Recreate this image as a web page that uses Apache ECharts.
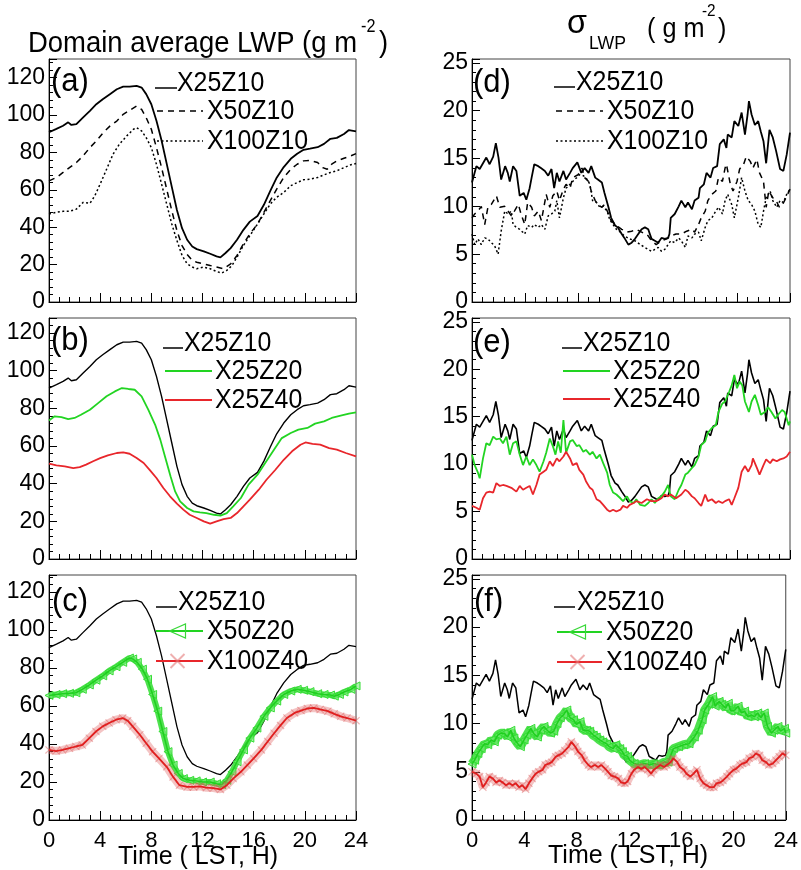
<!DOCTYPE html>
<html><head><meta charset="utf-8">
<script src="https://cdn.jsdelivr.net/npm/echarts@6/dist/echarts.min.js"></script>
<style>html,body{margin:0;padding:0;background:#fff}#c{width:801px;height:870px}</style>
</head><body><div id="c"></div>
<script>
// ---------------- DATA ----------------
const timeTicks = [0, 4, 8, 12, 16, 20, 24];
const panelLabels = ['(a)', '(b)', '(c)', '(d)', '(e)', '(f)'];
const namesA = ['X25Z10', 'X50Z10', 'X100Z10'];
const namesB = ['X25Z10', 'X25Z20', 'X25Z40'];
const namesC = ['X25Z10', 'X50Z20', 'X100Z40'];
const leftTitle = 'Domain average LWP (g m';
const xTitle = 'Time ( LST, H)';

// Domain average LWP (g m-2), [time, value]
const lwp_X25Z10 = [[0,90.8],[0.58,92.6],[1.1,94.3],[1.5,96.1],[1.75,94.7],[2.14,95.2],[2.67,98.8],[3.2,102.3],[3.7,105.8],[4.2,108.5],[4.76,111.2],[5.3,113.8],[5.8,115.2],[6.3,115.2],[6.85,115.6],[7.24,114.7],[7.6,111.2],[8.0,105.8],[8.4,97.0],[8.8,86.4],[9.2,74.0],[9.6,61.6],[10.0,49.2],[10.4,39.5],[10.8,33.3],[11.2,29.7],[11.55,28.3],[12.1,27.1],[12.6,25.8],[13.1,24.4],[13.4,23.9],[13.8,26.2],[14.2,28.8],[14.7,33.3],[15.2,38.6],[15.7,43.0],[16.3,46.0],[16.8,52.0],[17.3,59.5],[17.8,66.5],[18.35,72.2],[18.9,76.6],[19.4,79.3],[19.9,81.4],[20.4,82.0],[21.0,82.8],[21.5,84.6],[22.0,87.3],[22.5,87.8],[23.06,89.9],[23.45,92.0],[24,91.3]];
const lwp_X50Z10 = [[0,64.8],[0.58,66.6],[1.1,69.3],[1.6,71.9],[2.14,74.6],[2.67,78.2],[3.2,82.6],[3.7,86.1],[4.24,90.6],[4.76,94.1],[5.3,96.8],[5.8,100.4],[6.3,102.5],[6.85,104.8],[7.24,103.0],[7.6,98.6],[8.0,92.4],[8.4,82.6],[8.8,71.9],[9.2,60.4],[9.6,48.8],[10.0,38.2],[10.4,30.2],[10.8,25.4],[11.2,22.2],[11.55,21.3],[12.1,20.4],[12.6,19.5],[13.1,18.7],[13.65,17.8],[14.2,20.4],[14.7,24.9],[15.2,31.1],[15.7,36.4],[16.3,41.7],[16.8,48.0],[17.3,54.2],[17.8,60.4],[18.35,66.6],[18.9,71.0],[19.4,73.7],[19.9,75.5],[20.4,75.8],[21.0,74.6],[21.4,71.9],[21.75,71.0],[22.1,73.7],[22.5,75.5],[23.06,76.9],[23.6,78.2],[24,79.4]];
const lwp_X100Z10 = [[0,47.1],[0.58,48.0],[1.1,48.5],[1.6,48.5],[2.14,49.7],[2.67,53.3],[3.2,52.8],[3.58,56.8],[4.0,63.1],[4.5,71.0],[5.0,79.0],[5.5,84.4],[6.07,88.8],[6.6,92.4],[6.85,93.3],[7.24,91.5],[7.6,87.9],[8.0,82.6],[8.4,73.7],[8.8,63.1],[9.2,52.4],[9.6,41.7],[10.0,32.9],[10.4,24.9],[10.8,20.4],[11.2,18.7],[11.55,17.8],[12.1,18.7],[12.6,17.8],[13.1,16.3],[13.5,15.5],[13.9,16.9],[14.3,19.5],[14.7,24.0],[15.2,30.2],[15.7,35.5],[16.3,41.7],[16.8,47.1],[17.3,52.4],[17.8,56.0],[18.35,58.6],[18.9,62.2],[19.4,63.9],[19.9,65.4],[20.4,65.7],[21.0,66.6],[21.5,68.0],[22.0,69.3],[22.5,70.2],[23.06,71.9],[23.6,73.4],[24,74.1]];
const lwp_X25Z20 = [[0,73.6],[0.44,75.8],[0.97,75.4],[1.5,74.3],[2.0,74.9],[2.5,76.6],[3.2,79.3],[3.84,82.8],[4.5,86.4],[5.15,89.0],[5.7,90.8],[6.2,90.3],[6.7,89.9],[7.24,86.4],[7.76,79.3],[8.3,71.3],[8.7,63.4],[9.1,53.6],[9.5,43.9],[9.86,35.9],[10.25,30.6],[10.8,27.1],[11.3,25.3],[11.8,24.8],[12.3,24.4],[12.9,23.5],[13.4,23.0],[13.9,24.4],[14.4,28.0],[15.0,32.4],[15.6,39.5],[16.3,44.8],[16.9,51.0],[17.6,58.1],[18.2,64.2],[18.9,66.9],[19.5,68.7],[20.2,69.6],[20.8,71.9],[21.5,73.1],[22.1,74.9],[22.8,76.1],[23.45,77.2],[24,77.9]];
const lwp_X25Z40 = [[0,50.6],[0.58,49.7],[1.23,49.2],[1.9,48.3],[2.4,48.8],[2.9,50.1],[3.45,51.9],[4.0,53.6],[4.6,55.0],[5.3,56.3],[5.8,56.6],[6.3,55.9],[6.85,53.6],[7.4,51.0],[7.9,47.1],[8.4,43.0],[8.94,37.7],[9.46,33.3],[10.0,29.4],[10.5,26.2],[11.0,23.5],[11.55,21.8],[12.1,20.0],[12.6,18.8],[13.1,20.0],[13.65,21.2],[14.2,21.8],[14.7,24.4],[15.2,28.0],[15.7,31.5],[16.4,36.8],[17.0,42.1],[17.7,47.4],[18.35,52.7],[19.0,57.2],[19.66,60.7],[20.05,61.9],[20.6,61.2],[21.2,60.7],[21.9,58.9],[22.5,58.1],[23.2,56.3],[24,54.5]];
const lwp_X50Z20 = [[0,65.6],[0.55,66.1],[1.06,66.5],[1.6,66.7],[2.1,67.0],[2.6,68.8],[3.15,71.1],[3.67,73.6],[4.2,75.9],[4.7,78.5],[5.24,80.7],[5.76,83.0],[6.28,85.3],[6.54,84.8],[6.9,83.0],[7.3,79.4],[7.7,74.1],[8.1,66.1],[8.5,57.3],[8.9,46.6],[9.3,36.0],[9.7,28.9],[10.1,24.5],[10.5,21.8],[11.0,20.9],[11.5,20.6],[12.0,20.0],[12.6,20.0],[13.1,19.1],[13.5,18.6],[13.9,20.9],[14.3,25.4],[14.7,30.7],[15.2,36.9],[15.7,43.1],[16.25,48.4],[16.8,54.6],[17.3,59.0],[17.8,62.6],[18.35,66.1],[18.9,67.9],[19.4,68.8],[19.9,68.3],[20.4,67.6],[21.0,66.5],[21.5,66.1],[22.0,65.8],[22.3,65.2],[22.7,66.1],[23.06,67.4],[23.6,68.8],[24,70.6]];
const lwp_X100Z40 = [[0,36.9],[0.55,36.3],[1.06,36.9],[1.6,37.8],[2.1,38.7],[2.6,39.5],[3.15,43.1],[3.67,46.6],[4.2,49.3],[4.7,51.1],[5.24,52.8],[5.76,53.7],[6.15,52.3],[6.54,49.3],[7.1,44.9],[7.6,40.4],[8.1,36.0],[8.6,32.4],[9.2,28.0],[9.7,22.7],[10.2,18.3],[10.8,17.4],[11.3,17.4],[11.8,17.7],[12.3,17.0],[12.85,16.8],[13.4,16.1],[13.9,18.3],[14.4,21.8],[15.0,25.4],[15.5,28.9],[16.0,32.4],[16.6,36.9],[17.1,41.3],[17.6,45.7],[18.1,49.8],[18.6,53.7],[19.2,56.4],[19.7,57.6],[20.2,58.7],[20.7,59.0],[21.2,58.2],[21.8,57.3],[22.3,55.9],[22.8,54.6],[23.3,53.7],[24,52.3]];

// sigma LWP (g m-2), [time, value]
const sig_X25Z10 = [[0,12.5],[0.33,14.2],[0.58,13.9],[0.83,14.5],[1.08,15.1],[1.33,14.4],[1.6,15.2],[1.8,16.6],[2.0,15.1],[2.2,12.8],[2.5,14.2],[2.7,13.5],[2.85,12.6],[3.1,14.2],[3.35,13.7],[3.6,11.1],[3.9,11.4],[4.1,10.7],[4.35,11.9],[4.5,13.0],[4.7,14.4],[5.0,14.2],[5.2,14.0],[5.5,13.7],[5.75,13.2],[6.0,13.9],[6.2,11.9],[6.4,13.5],[6.6,12.6],[6.9,13.7],[7.1,12.8],[7.4,13.5],[7.6,14.0],[7.95,14.6],[8.25,13.5],[8.5,14.0],[8.8,13.5],[9.0,14.2],[9.3,13.0],[9.5,12.8],[9.8,12.5],[10.0,11.4],[10.3,9.9],[10.5,8.8],[10.8,8.0],[11.0,7.8],[11.3,7.1],[11.5,6.7],[11.8,6.0],[12.05,6.2],[12.3,6.6],[12.55,7.1],[12.8,7.6],[13.05,7.8],[13.3,7.6],[13.55,6.6],[13.8,6.4],[14.05,6.2],[14.3,6.7],[14.55,6.6],[14.8,6.7],[14.9,7.1],[15.0,8.8],[15.3,9.2],[15.6,10.0],[15.8,10.6],[16.1,9.9],[16.3,10.4],[16.6,9.7],[16.8,10.6],[17.1,10.9],[17.2,11.9],[17.5,12.3],[17.7,13.5],[18.0,13.0],[18.2,14.0],[18.5,14.2],[18.7,16.5],[19.0,17.0],[19.2,16.1],[19.3,17.5],[19.6,17.2],[19.8,18.9],[20.1,18.4],[20.35,19.8],[20.6,17.5],[20.8,19.6],[20.9,21.0],[21.1,19.6],[21.35,18.5],[21.6,18.9],[21.8,17.8],[22.0,16.8],[22.2,14.5],[22.45,18.0],[22.7,17.2],[22.95,15.8],[23.25,13.9],[23.5,13.7],[23.75,15.4],[24,17.7]];
const sig_X50Z10 = [[0,8.8],[0.2,9.2],[0.45,9.5],[0.7,10.0],[0.96,8.1],[1.2,9.9],[1.46,10.2],[1.84,11.1],[2.1,9.9],[2.47,10.0],[2.72,9.5],[2.97,9.0],[3.2,9.5],[3.5,10.2],[3.7,9.2],[3.98,8.1],[4.2,10.4],[4.5,9.9],[4.7,9.0],[5.0,9.5],[5.24,8.5],[5.6,11.25],[5.87,9.9],[6.1,11.1],[6.4,11.6],[6.6,10.6],[6.9,11.8],[7.1,12.3],[7.4,11.9],[7.6,13.0],[8.0,13.3],[8.3,14.0],[8.5,13.0],[8.8,12.6],[9.0,11.6],[9.3,10.6],[9.5,10.2],[9.8,9.9],[10.0,10.2],[10.3,9.2],[10.5,8.5],[10.9,8.0],[11.3,7.6],[11.7,7.3],[12.05,7.4],[12.4,7.6],[12.8,7.3],[13.2,7.1],[13.55,6.4],[13.9,6.0],[14.3,6.4],[14.7,6.6],[15.0,6.9],[15.4,7.1],[15.8,7.1],[16.2,7.4],[16.6,7.6],[16.8,7.3],[17.1,8.1],[17.3,8.8],[17.6,9.5],[17.8,10.6],[18.1,11.25],[18.4,11.6],[18.6,13.0],[18.9,12.6],[19.1,14.0],[19.2,14.4],[19.5,12.3],[19.7,11.6],[20.0,12.6],[20.2,13.9],[20.5,14.4],[20.7,15.2],[21.0,14.7],[21.2,14.0],[21.5,14.9],[21.7,13.5],[22.0,12.6],[22.2,9.9],[22.4,11.6],[22.7,10.9],[22.95,10.6],[23.2,9.9],[23.45,10.2],[23.7,10.9],[24,11.8]];
const sig_X100Z10 = [[0,7.1],[0.2,6.0],[0.45,6.6],[0.7,6.0],[0.96,6.7],[1.2,6.6],[1.46,6.2],[1.7,5.9],[1.97,5.0],[2.2,7.4],[2.47,9.5],[2.72,9.2],[2.97,9.5],[3.1,8.1],[3.35,7.8],[3.6,7.6],[3.98,7.1],[4.2,8.0],[4.5,7.8],[4.7,8.1],[5.0,7.8],[5.24,8.1],[5.5,7.6],[5.75,9.0],[6.0,9.2],[6.25,9.5],[6.4,10.6],[6.6,8.8],[6.9,10.9],[7.1,11.9],[7.4,12.3],[7.6,12.6],[7.9,13.0],[8.1,13.3],[8.4,13.2],[8.6,13.0],[8.9,12.3],[9.1,10.6],[9.4,10.4],[9.65,9.9],[9.9,10.0],[10.2,9.5],[10.4,8.6],[10.65,8.1],[10.9,7.6],[11.2,7.3],[11.5,6.9],[11.9,6.6],[12.3,6.4],[12.7,6.0],[13.05,5.7],[13.3,5.5],[13.55,5.3],[13.8,5.5],[14.05,5.7],[14.3,5.3],[14.55,5.5],[14.8,6.0],[15.0,6.4],[15.3,6.2],[15.6,6.7],[15.8,6.4],[16.1,5.7],[16.3,6.9],[16.6,6.7],[16.8,7.1],[17.1,7.3],[17.3,6.4],[17.6,7.8],[17.8,8.5],[18.1,8.8],[18.4,9.5],[18.6,9.9],[18.9,9.2],[19.1,10.6],[19.3,11.25],[19.6,10.2],[19.8,8.8],[20.1,10.9],[20.35,13.0],[20.6,11.6],[20.85,10.6],[21.1,10.2],[21.35,9.5],[21.6,8.1],[21.8,7.8],[22.0,9.5],[22.2,10.9],[22.5,11.6],[22.7,10.6],[23.0,9.9],[23.25,10.6],[23.5,10.4],[23.75,11.25],[24,11.8]];
const sig_X25Z20 = [[0,11.0],[0.2,9.9],[0.45,9.1],[0.58,8.5],[0.83,10.6],[1.08,12.2],[1.33,12.0],[1.6,12.9],[1.84,12.6],[2.1,12.7],[2.34,12.2],[2.6,12.9],[2.85,11.0],[3.1,12.2],[3.35,12.4],[3.6,11.0],[3.85,9.9],[4.1,10.8],[4.35,9.9],[4.6,10.5],[4.86,9.9],[5.1,9.2],[5.4,10.3],[5.6,11.2],[5.87,12.7],[6.1,11.9],[6.3,11.0],[6.5,12.4],[6.7,11.2],[6.9,14.65],[7.1,11.2],[7.4,12.4],[7.6,12.55],[7.9,11.9],[8.1,12.0],[8.4,11.3],[8.6,11.5],[8.9,11.0],[9.1,11.3],[9.4,10.6],[9.65,11.0],[9.9,10.1],[10.2,9.1],[10.4,7.8],[10.65,7.0],[10.9,6.8],[11.2,6.4],[11.4,6.1],[11.7,6.6],[11.9,6.1],[12.2,5.9],[12.4,6.3],[12.7,5.7],[13.05,5.6],[13.3,5.9],[13.55,6.3],[13.8,5.9],[14.05,6.4],[14.3,6.6],[14.55,7.1],[14.8,7.8],[15.0,6.6],[15.3,6.3],[15.6,7.3],[15.8,7.8],[16.1,8.9],[16.3,9.1],[16.6,9.6],[16.8,9.9],[17.1,10.8],[17.3,12.0],[17.6,12.4],[17.8,13.3],[18.1,13.8],[18.4,14.1],[18.6,15.5],[18.9,16.4],[19.1,16.6],[19.4,17.6],[19.6,18.3],[19.8,19.4],[20.0,18.0],[20.2,18.7],[20.4,18.3],[20.6,16.6],[20.9,15.5],[21.1,16.6],[21.35,17.3],[21.6,16.2],[21.8,15.2],[22.1,15.5],[22.35,16.0],[22.6,15.5],[22.9,14.8],[23.1,15.2],[23.4,15.7],[23.6,15.5],[23.9,14.1],[24,14.5]];
const sig_X25Z40 = [[0,5.6],[0.33,5.4],[0.58,5.2],[0.83,6.4],[1.08,7.0],[1.33,7.1],[1.6,7.0],[1.84,8.0],[2.1,7.7],[2.34,7.8],[2.6,7.7],[2.97,7.5],[3.35,7.1],[3.6,7.7],[3.85,7.3],[4.1,7.5],[4.35,7.7],[4.6,6.8],[4.86,7.8],[5.1,8.9],[5.4,9.2],[5.6,9.4],[5.87,10.3],[6.1,9.8],[6.4,10.6],[6.6,10.3],[6.9,10.8],[7.1,11.3],[7.4,10.6],[7.6,9.9],[7.9,10.1],[8.1,9.4],[8.4,8.9],[8.6,8.2],[8.9,7.5],[9.1,7.3],[9.4,6.3],[9.65,6.1],[9.9,5.7],[10.2,5.2],[10.4,5.0],[10.65,5.2],[10.9,5.0],[11.2,5.2],[11.4,5.6],[11.7,5.4],[11.9,5.7],[12.2,5.9],[12.4,6.1],[12.8,5.9],[13.2,6.3],[13.55,6.1],[13.9,6.1],[14.3,6.4],[14.55,6.8],[14.8,6.6],[15.0,6.8],[15.4,6.4],[15.8,6.8],[16.1,7.3],[16.3,7.1],[16.6,6.6],[16.8,6.4],[17.1,5.9],[17.3,5.6],[17.6,6.8],[17.8,6.1],[18.1,6.3],[18.4,5.9],[18.6,6.1],[18.9,5.9],[19.1,6.1],[19.4,6.3],[19.6,5.7],[19.8,6.4],[20.1,7.5],[20.35,9.2],[20.6,9.8],[20.85,9.2],[21.1,9.9],[21.2,10.6],[21.5,9.6],[21.7,8.9],[22.0,9.9],[22.2,10.5],[22.5,10.1],[22.7,10.5],[23.0,10.3],[23.25,10.5],[23.5,10.6],[23.75,10.8],[24,11.3]];
const sig_X50Z20 = [[0,5.8],[0.2,6.2],[0.45,6.9],[0.7,7.4],[0.96,7.9],[1.2,7.8],[1.46,8.3],[1.7,8.1],[1.97,8.8],[2.2,9.0],[2.47,9.0],[2.72,8.6],[2.97,9.3],[3.2,8.5],[3.5,7.9],[3.7,7.6],[3.98,8.3],[4.2,8.8],[4.5,9.5],[4.7,9.0],[5.0,8.6],[5.24,9.3],[5.5,9.7],[5.75,9.3],[6.0,9.0],[6.25,9.2],[6.5,10.0],[6.75,10.6],[7.0,10.9],[7.25,11.4],[7.5,10.6],[7.76,10.4],[8.0,9.9],[8.26,10.2],[8.5,9.3],[8.77,9.3],[9.0,9.2],[9.27,8.8],[9.5,8.6],[9.77,8.3],[10.0,8.1],[10.3,7.9],[10.5,7.6],[10.8,7.4],[11.0,7.8],[11.3,7.4],[11.5,7.1],[11.65,6.7],[11.9,6.6],[12.05,6.2],[12.4,5.85],[12.8,5.7],[13.2,5.85],[13.55,5.7],[13.9,5.85],[14.3,5.7],[14.7,6.0],[15.0,6.0],[15.4,7.4],[15.8,7.6],[16.2,7.8],[16.6,7.9],[17.0,8.6],[17.3,9.3],[17.6,10.4],[17.8,11.4],[18.1,12.0],[18.4,12.8],[18.6,11.8],[18.9,12.3],[19.1,12.0],[19.4,11.6],[19.6,12.1],[19.8,11.3],[20.1,11.4],[20.35,11.8],[20.6,11.1],[20.85,11.3],[21.1,10.7],[21.35,10.9],[21.6,10.7],[21.85,11.1],[22.1,10.6],[22.35,11.1],[22.6,9.7],[22.9,9.0],[23.1,9.3],[23.4,9.7],[23.6,9.2],[23.9,9.5],[24,9.0]];
const sig_X100Z40 = [[0,5.0],[0.33,4.8],[0.58,4.5],[0.83,3.4],[1.08,3.9],[1.33,4.5],[1.6,4.3],[1.84,3.9],[2.1,4.1],[2.34,3.9],[2.6,3.6],[2.85,3.8],[3.1,3.6],[3.35,3.8],[3.6,3.4],[3.85,3.6],[4.1,3.2],[4.35,3.8],[4.6,4.3],[4.86,4.8],[5.1,5.0],[5.4,5.2],[5.6,5.7],[5.87,5.85],[6.1,6.0],[6.4,6.55],[6.6,6.7],[6.9,6.9],[7.1,7.2],[7.4,7.6],[7.6,8.1],[7.9,7.6],[8.1,7.1],[8.4,6.7],[8.6,6.2],[8.9,5.7],[9.1,5.5],[9.4,5.7],[9.65,5.5],[9.9,5.7],[10.2,5.3],[10.4,5.0],[10.65,4.6],[10.9,4.5],[11.2,4.3],[11.4,3.9],[11.7,3.8],[11.9,4.0],[12.2,4.8],[12.4,5.2],[12.7,5.5],[12.95,5.3],[13.2,5.5],[13.45,5.2],[13.7,4.8],[13.9,5.2],[14.2,5.5],[14.4,5.7],[14.7,5.5],[14.9,5.7],[15.2,6.0],[15.4,6.4],[15.7,6.0],[15.9,5.5],[16.2,5.2],[16.4,4.8],[16.7,4.5],[16.95,4.8],[17.2,5.2],[17.45,4.3],[17.7,3.8],[17.95,3.6],[18.2,3.4],[18.5,3.4],[18.7,3.8],[19.0,3.9],[19.2,4.1],[19.5,4.5],[19.7,4.8],[20.0,5.2],[20.2,5.3],[20.5,5.7],[20.7,5.85],[21.0,6.0],[21.2,6.4],[21.5,6.55],[21.7,6.9],[22.0,6.7],[22.2,6.2],[22.5,6.0],[22.7,5.7],[23.0,5.85],[23.25,6.2],[23.5,6.55],[23.75,6.9],[24,6.7]];

// ---------------- LAYOUT / STYLE ----------------
const FONT = '"Liberation Sans", Arial, Helvetica, sans-serif';
const GREEN = '#22d422', RED = '#e8262b';
const grids = [
  {left: 49, top: 59, width: 307, height: 243},
  {left: 49, top: 318, width: 307, height: 241},
  {left: 49, top: 575, width: 307, height: 245},
  {left: 472, top: 59, width: 318, height: 243},
  {left: 472, top: 318, width: 318, height: 241},
  {left: 472, top: 575, width: 318, height: 245}
];
const yMax = [130, 128, 129, 25.4, 25.4, 25.4];
const yStep = [20, 20, 20, 5, 5, 5];

const xAxes = grids.map((g, i) => ({
  type: 'value', gridIndex: i, min: timeTicks[0], max: timeTicks[timeTicks.length - 1], interval: 4,
  axisLine: {show: true, onZero: false, lineStyle: {color: '#000', width: 1}},
  axisTick: {show: true, inside: true, length: 9, lineStyle: {color: '#000', width: 1}},
  minorTick: {show: true, splitNumber: 5, length: 5, lineStyle: {color: '#000', width: 1}},
  splitLine: {show: false},
  axisLabel: {show: i === 2 || i === 5, fontSize: 22, fontFamily: FONT, color: '#000', margin: 10}
}));
const yAxes = grids.map((g, i) => ({
  type: 'value', gridIndex: i, min: 0, max: yMax[i], interval: yStep[i],
  axisLine: {show: true, onZero: false, lineStyle: {color: '#000', width: 1}},
  axisTick: {show: true, inside: true, length: 8, lineStyle: {color: '#000', width: 1}},
  minorTick: {show: true, splitNumber: 5, length: 4, lineStyle: {color: '#000', width: 1}},
  splitLine: {show: false},
  axisLabel: {
    fontSize: 23, fontFamily: FONT, color: '#000', margin: 4,
    formatter: v => (Math.abs(v / yStep[i] - Math.round(v / yStep[i])) < 1e-6 ? String(Math.round(v)) : '')
  }
}));

function line(gi, name, data, color, width, dash, z) {
  return {type: 'line', name, xAxisIndex: gi, yAxisIndex: gi, data, symbol: 'none', animation: false,
    z: z || 2, lineStyle: {color, width, type: dash || 'solid'}};
}
const CROSS = 'path://M0,1L1,0L5,4L9,0L10,1L6,5L10,9L9,10L5,6L1,10L0,9L4,5Z';
function greenBand(gi, name, data, w) {
  return [
    {type: 'line', name, xAxisIndex: gi, yAxisIndex: gi, data, animation: false, z: 3,
      lineStyle: {color: 'rgba(60,222,60,0.9)', width: w},
      symbol: 'triangle', symbolRotate: 90, symbolSize: 8, showSymbol: true,
      itemStyle: {color: 'rgba(120,235,120,0.6)', borderColor: '#33dd33', borderWidth: 1}},
    line(gi, name, data, '#1fcf1f', 1.5, 'solid', 4)
  ];
}
function redBand(gi, name, data) {
  return [
    {type: 'line', name, xAxisIndex: gi, yAxisIndex: gi, data, animation: false, z: 5,
      lineStyle: {color: 'rgba(225,100,100,0.38)', width: 8},
      symbol: CROSS, symbolSize: 8, showSymbol: true,
      itemStyle: {color: 'rgba(220,90,90,0.45)'}},
    line(gi, name, data, '#e01f1f', 1.8, 'solid', 6)
  ];
}

const series = [
  line(0, namesA[0], lwp_X25Z10, '#000', 1.8),
  line(0, namesA[1], lwp_X50Z10, '#000', 1.5, [6, 5]),
  line(0, namesA[2], lwp_X100Z10, '#000', 1.5, [2, 2.5]),
  line(1, namesB[0], lwp_X25Z10, '#000', 1.4),
  line(1, namesB[1], lwp_X25Z20, GREEN, 1.8),
  line(1, namesB[2], lwp_X25Z40, RED, 1.8),
  line(2, namesC[0], lwp_X25Z10, '#000', 1.3),
  ...greenBand(2, namesC[1], lwp_X50Z20, 6),
  ...redBand(2, namesC[2], lwp_X100Z40),
  line(3, namesA[0], sig_X25Z10, '#000', 1.8),
  line(3, namesA[1], sig_X50Z10, '#000', 1.5, [6, 5]),
  line(3, namesA[2], sig_X100Z10, '#000', 1.5, [2, 2.5]),
  line(4, namesB[0], sig_X25Z10, '#000', 1.6),
  line(4, namesB[1], sig_X25Z20, GREEN, 1.8),
  line(4, namesB[2], sig_X25Z40, RED, 1.8),
  line(5, namesC[0], sig_X25Z10, '#000', 1.5),
  ...greenBand(5, namesC[1], sig_X50Z20, 9),
  ...redBand(5, namesC[2], sig_X100Z40)
];

// -------- graphics: titles, panel labels, legends --------
function txt(x, y, s, size, sx) {
  return {type: 'text', x, y, z: 100, silent: true, scaleX: sx || 1,
    style: {text: s, fontSize: size, fontFamily: FONT, fill: '#000', verticalAlign: 'middle', align: 'left'}};
}
function seg(x1, y1, x2, y2, stroke, w, dash) {
  return {type: 'line', z: 100, silent: true, shape: {x1, y1, x2, y2}, style: {stroke, lineWidth: w, lineDash: dash || null}};
}
const g = [];
// titles
g.push(txt(28, 44, leftTitle, 30, 0.915));
g.push(txt(361, 27, '-2', 18, 0.9));
g.push(txt(379, 44, ')', 30, 0.915));
g.push(txt(567, 24, 'σ', 34, 0.95));
g.push(txt(589, 44, 'LWP', 19, 0.93));
g.push(txt(647, 29, '( g m', 28, 0.9));
g.push(txt(702, 11, '-2', 17, 0.9));
g.push(txt(718, 29, ')', 28, 0.9));
// x-axis titles
g.push(txt(118, 857, xTitle, 25));
g.push(txt(548, 856, xTitle, 25));
// panel labels
const lblPos = [[51, 82], [51, 341], [52, 602], [473, 83], [473, 343], [474, 602]];
panelLabels.forEach((s, i) => g.push(txt(lblPos[i][0], lblPos[i][1], s, 33, 0.94)));

function legend(L, names, styles) {
  g.push(seg(L.s1[0], L.y[0] + 5, L.s1[1], L.y[0] + 5, styles[0].c, styles[0].w, styles[0].d));
  g.push(txt(L.t1, L.y[0], names[0], 28, 0.89));
  for (let r = 1; r < 3; r++) {
    g.push(seg(L.s2[0], L.y[r], L.s2[1], L.y[r], styles[r].c, styles[r].w, styles[r].d));
    g.push(txt(L.t2, L.y[r], names[r], 28, 0.89));
    const mx = (L.s2[0] + L.s2[1]) / 2 - 2;
    if (styles[r].m === 'tri') {
      g.push({type: 'polygon', z: 101, silent: true, shape: {points: [[mx - 8, L.y[r]], [mx + 8, L.y[r] - 7], [mx + 8, L.y[r] + 7]]},
        style: {fill: 'none', stroke: '#3ad83a', lineWidth: 1.2}});
    } else if (styles[r].m === 'x') {
      g.push(seg(mx - 7, L.y[r] - 7, mx + 7, L.y[r] + 7, 'rgba(225,110,110,0.55)', 2));
      g.push(seg(mx - 7, L.y[r] + 7, mx + 7, L.y[r] - 7, 'rgba(225,110,110,0.55)', 2));
    }
  }
}
const stA = [{c: '#000', w: 1.5}, {c: '#000', w: 1.5, d: [6, 5]}, {c: '#000', w: 1.5, d: [2, 2.5]}];
const stB = [{c: '#000', w: 1.5}, {c: GREEN, w: 1.8}, {c: RED, w: 1.8}];
const stC = [{c: '#000', w: 1.5}, {c: GREEN, w: 1.8, m: 'tri'}, {c: RED, w: 1.8, m: 'x'}];
legend({s1: [155, 177], t1: 177, s2: [157, 203], t2: 207, y: [83, 111, 141]}, namesA, stA);
legend({s1: [163, 183], t1: 184, s2: [165, 212], t2: 215, y: [343, 371, 400]}, namesB, stB);
legend({s1: [156, 177], t1: 178, s2: [156, 203], t2: 207, y: [602, 631, 661]}, namesC, stC);
legend({s1: [554, 575], t1: 576, s2: [556, 603], t2: 607, y: [82, 111, 141]}, namesA, stA);
legend({s1: [562, 582], t1: 583, s2: [563, 610], t2: 613, y: [343, 371, 399]}, namesB, stB);
legend({s1: [554, 575], t1: 577, s2: [557, 602], t2: 606, y: [602, 632, 662]}, namesC, stC);

const chart = echarts.init(document.getElementById('c'), null, {renderer: 'canvas'});
chart.setOption({
  backgroundColor: '#fff',
  animation: false,
  grid: grids.map(gg => Object.assign({show: true, borderColor: '#444', borderWidth: 1, backgroundColor: 'transparent', containLabel: false}, gg)),
  xAxis: xAxes,
  yAxis: yAxes,
  series,
  graphic: g
});
</script>
</body></html>
